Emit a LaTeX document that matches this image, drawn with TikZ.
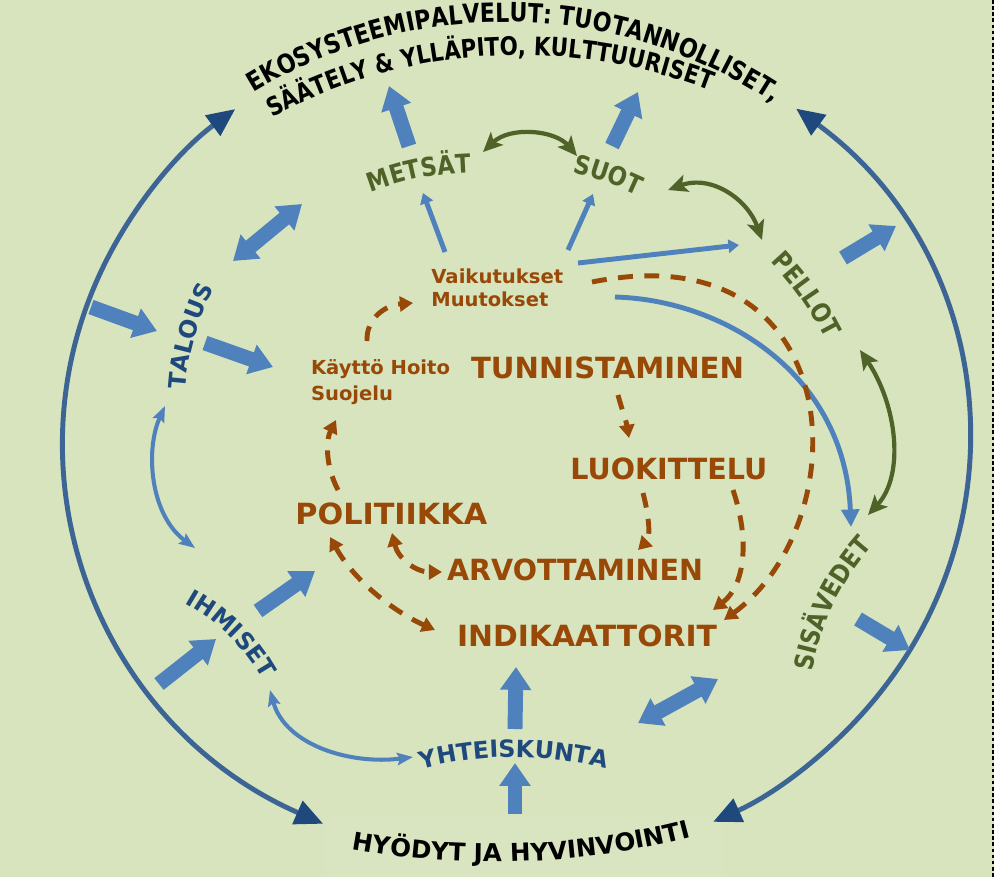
\documentclass[tikz,border=0pt]{standalone}
\usepackage{fontspec}
\usepackage{graphicx}
\usetikzlibrary{arrows.meta,decorations.text,calc}
\setmainfont{DejaVu Sans}
\newfontfamily\narrowfont{DejaVu Sans}[FakeStretch=0.84]
\newfontfamily\bentfont{DejaVu Sans}[FakeStretch=0.87]

\definecolor{bgc}{HTML}{D7E4BD}
\definecolor{rust}{HTML}{984807}
\definecolor{olivegr}{HTML}{4F6228}
\definecolor{arrowblue}{HTML}{4F81BD}
\definecolor{inkblue}{HTML}{1F497D}
\definecolor{ringblue}{HTML}{3C6494}

% one pixel of the 994 x 877 sheet
\newdimen\pxu \pxu=0.56906pt
% word squeezed to a width in pixels, height kept
\newcommand\wfit[2]{\resizebox{#1\pxu}{\height}{#2}}
% formats of the bent texts
\newcommand\topfmt{\narrowfont\bfseries\fontsize{15}{17}\selectfont}
\newcommand\subfmt{\narrowfont\bfseries\fontsize{14.5}{17}\selectfont}
\newcommand\greenfmt{\bentfont\bfseries\fontsize{14.8}{17}\selectfont\color{olivegr}}
\newcommand\bluefmt{\bfseries\fontsize{13.5}{16}\selectfont\color{inkblue}}
\newcommand\footfmt{\bfseries\fontsize{14}{16}\selectfont}
% text on a circular arc: x, y of mid baseline, direction, radius, format, text
\newcommand\bentlabel[6]{%
  \pgfmathsetmacro\bspan{360/abs(#4)*57.2958}%
  \pgfmathsetmacro\bsign{#4/abs(#4)}%
  \path[decorate, decoration={text along path, text align=center, text={|#5|#6}}]
    plot[domain=-\bspan:\bspan, samples=90, variable=\t]
    ({#1+(#4)*(cos(#3-90+\bsign*\t)-cos(#3-90))}, {#2+(#4)*(sin(#3-90+\bsign*\t)-sin(#3-90))});%
}

\begin{document}
\begin{tikzpicture}[x=0.02cm, y=-0.02cm, line join=round]
  \tikzset{
    word/.style={inner sep=0pt, anchor=base west, text=rust, font=\bfseries\fontsize{16.6}{19}\selectfont},
    note/.style={inner sep=0pt, anchor=base west, text=rust, font=\bfseries\fontsize{11}{13}\selectfont},
    fat/.style={draw=arrowblue, line width=8.5pt, -{Triangle[length=13pt,width=17pt]}},
    fatboth/.style={fat, {Triangle[length=13pt,width=17pt]}-{Triangle[length=13pt,width=17pt]}},
    slim/.style={draw=arrowblue, line width=2.8pt, -{Triangle[length=6pt,width=7.5pt]}},
    sweep/.style={draw=arrowblue, line width=2.8pt, -{Triangle[length=10pt,width=10pt]}},
    bendlink/.style={draw=arrowblue, line width=2.3pt, {Stealth[length=9pt,width=7pt,inset=1.5pt]}-{Stealth[length=9pt,width=7pt,inset=1.5pt]}},
    greenlink/.style={draw=olivegr, line width=2.4pt, {Stealth[length=11pt,width=10pt,inset=2.5pt]}-{Stealth[length=11pt,width=10pt,inset=2.5pt]}},
    flow/.style={draw=rust, line width=2.8pt, dash pattern=on 8.5pt off 6.5pt, -{Triangle[length=7.5pt,width=8.5pt]}},
    flowboth/.style={flow, {Triangle[length=7.5pt,width=8.5pt]}-{Triangle[length=7.5pt,width=8.5pt]}},
    ring/.style={draw=ringblue, line width=2.8pt, {Triangle[length=16pt,width=14pt,color=inkblue]}-{Triangle[length=16pt,width=14pt,color=inkblue]}}
  }

  % sheet
  \useasboundingbox (0,0) rectangle (994,877);
  \fill[bgc] (0,0) rectangle (994,877);
  \fill[bgc!95!white] (325,818) rectangle (722,877);
  \draw[black, line width=0.6pt, dash pattern=on 2pt off 1.5pt] (993,0) -- (993,877);

  % outer ring
  \coordinate (ctr) at (516,441);
  \draw[ring] ($(ctr)+(115.2:453 and 423)$) arc[start angle=115.2, end angle=231.7, x radius=453, y radius=423];
  \draw[ring] ($(ctr)+(-51.8:453 and 423)$) arc[start angle=-51.8, end angle=64.2, x radius=453, y radius=423];

  % ends of the thick arrows
  \coordinate (met0) at (409,146);  \coordinate (met1) at (389,86);
  \coordinate (suo0) at (612,146);  \coordinate (suo1) at (638,92);
  \coordinate (pel0) at (843,258);  \coordinate (pel1) at (896,226);
  \coordinate (sis0) at (858,619);  \coordinate (sis1) at (910,650);
  \coordinate (yht0) at (515,729);  \coordinate (yht1) at (516,667);
  \coordinate (hyo0) at (515,814);  \coordinate (hyo1) at (515,763);
  \coordinate (ihm0) at (159,684);  \coordinate (ihm1) at (216,639);
  \coordinate (pol0) at (258,611);  \coordinate (pol1) at (315,571);
  \coordinate (tal0) at (91,307);   \coordinate (tal1) at (157,331);
  \coordinate (kay0) at (205,343);  \coordinate (kay1) at (273,367);
  \coordinate (tm0) at (233,261);   \coordinate (tm1) at (302,204);
  \coordinate (is0) at (638,723);   \coordinate (is1) at (718,679);

  \foreach \a/\b in {met0/met1, suo0/suo1, pel0/pel1, sis0/sis1, yht0/yht1,
                     hyo0/hyo1, ihm0/ihm1, pol0/pol1, tal0/tal1, kay0/kay1}
    \draw[fat] (\a) -- (\b);
  \draw[fatboth] (tm0) -- (tm1);
  \draw[fatboth] (is0) -- (is1);

  % thin blue links
  \coordinate (vm0) at (445,252);  \coordinate (vm1) at (423,193);
  \coordinate (vs0) at (568,250);  \coordinate (vs1) at (593,194);
  \coordinate (vp0) at (578,263);  \coordinate (vp1) at (739,245);
  \coordinate (vw0) at (615,297);  \coordinate (vw1) at (851,527);
  \coordinate (ti0) at (165,406);  \coordinate (ti1) at (195,548);
  \coordinate (iy0) at (270,690);  \coordinate (iy1) at (413,757);
  \draw[slim] (vm0) -- (vm1);
  \draw[slim] (vs0) -- (vs1);
  \draw[slim] (vp0) -- (vp1);
  \draw[sweep] (vw0) .. controls (725,300) and (845,375) .. (vw1);
  \draw[bendlink] (ti0) .. controls (145,450) and (150,515) .. (ti1);
  \draw[bendlink] (iy0) .. controls (285,745) and (350,765) .. (iy1);

  % green links between the landscapes
  \coordinate (ms0) at (483,152);  \coordinate (ms1) at (577,156);
  \coordinate (sp0) at (668,190);  \coordinate (sp1) at (762,240);
  \coordinate (pw0) at (860,350);  \coordinate (pw1) at (868,515);
  \draw[greenlink] (ms0) .. controls (510,126) and (555,130) .. (ms1);
  \draw[greenlink] (sp0) .. controls (712,174) and (748,200) .. (sp1);
  \draw[greenlink] (pw0) .. controls (897,405) and (905,475) .. (pw1);

  % brown words
  \node[word] (tunn) at (470.7,378.3) {\wfit{273}{TUNNISTAMINEN}};
  \node[word] (luok) at (570,479.3) {\wfit{197}{LUOKITTELU}};
  \node[word] (poli) at (295,524) {\wfit{192}{POLITIIKKA}};
  \node[word] (arvo) at (446.7,580) {\wfit{256}{ARVOTTAMINEN}};
  \node[word] (indi) at (456.7,646.7) {\wfit{260}{INDIKAATTORIT}};
  \node[note] (vaik) at (431,283.3) {\wfit{132}{Vaikutukset}};
  \node[note] (muut) at (431,306) {\wfit{117}{Muutokset}};
  \node[note] (kayt) at (310.7,374) {\wfit{139}{Käyttö Hoito}};
  \node[note] (suoj) at (310.7,400.7) {\wfit{82}{Suojelu}};

  % dashed cycle
  \coordinate (kv0) at (367,341);  \coordinate (kv1) at (413,303);
  \coordinate (pk0) at (338,490);  \coordinate (pk1) at (336,420);
  \coordinate (tl0) at (618,395);  \coordinate (tl1) at (629,438);
  \coordinate (la0) at (643,493);  \coordinate (la1) at (638,550);
  \coordinate (li0) at (733,490);  \coordinate (li1) at (713,610);
  \coordinate (vi0) at (592,282);  \coordinate (vi1) at (724,620);
  \coordinate (pa0) at (392,533);  \coordinate (pa1) at (442,572);
  \coordinate (pi0) at (330,537);  \coordinate (pi1) at (435,630);
  \draw[flow] (kv0) .. controls (366,318) and (386,305) .. (kv1);
  \draw[flow] (pk0) .. controls (325,465) and (326,440) .. (pk1);
  \draw[flow] (tl0) .. controls (622,410) and (626,420) .. (tl1);
  \draw[flow] (la0) .. controls (650,520) and (650,538) .. (la1);
  \draw[flow] (li0) .. controls (750,540) and (745,585) .. (li1);
  \draw[flow] (vi0) .. controls (850,230) and (860,520) .. (vi1);
  \draw[flowboth] (pa0) .. controls (398,558) and (415,572) .. (pa1);
  \draw[flowboth] (pi0) .. controls (355,582) and (395,612) .. (pi1);

  % bent texts
  \bentlabel{515.5}{22}{1.2}{483}{\topfmt}{EKOSYSTEEMIPALVELUT: TUOTANNOLLISET,}
  \bentlabel{488}{56}{-3.5}{525}{\subfmt}{SÄÄTELY {\&} YLLÄPITO, KULTTUURISET}
  \bentlabel{420}{178}{-11}{290}{\greenfmt}{METSÄT}
  \bentlabel{605.5}{182}{19.5}{290}{\greenfmt}{SUOT}
  \bentlabel{801}{298.7}{54.7}{330}{\greenfmt}{PELLOT}
  \bentlabel{833.6}{604.8}{-64.7}{250}{\greenfmt}{SISÄVEDET}
  \bentlabel{194.7}{337.8}{-74}{260}{\bluefmt}{TALOUS}
  \bentlabel{229}{636}{44.6}{200}{\bluefmt}{IHMISET}
  \bentlabel{514}{757}{0}{360}{\bluefmt}{YHTEISKUNTA}
  \bentlabel{522}{861.5}{-2.1}{-797}{\footfmt}{HYÖDYT JA HYVINVOINTI}
\end{tikzpicture}
\end{document}
